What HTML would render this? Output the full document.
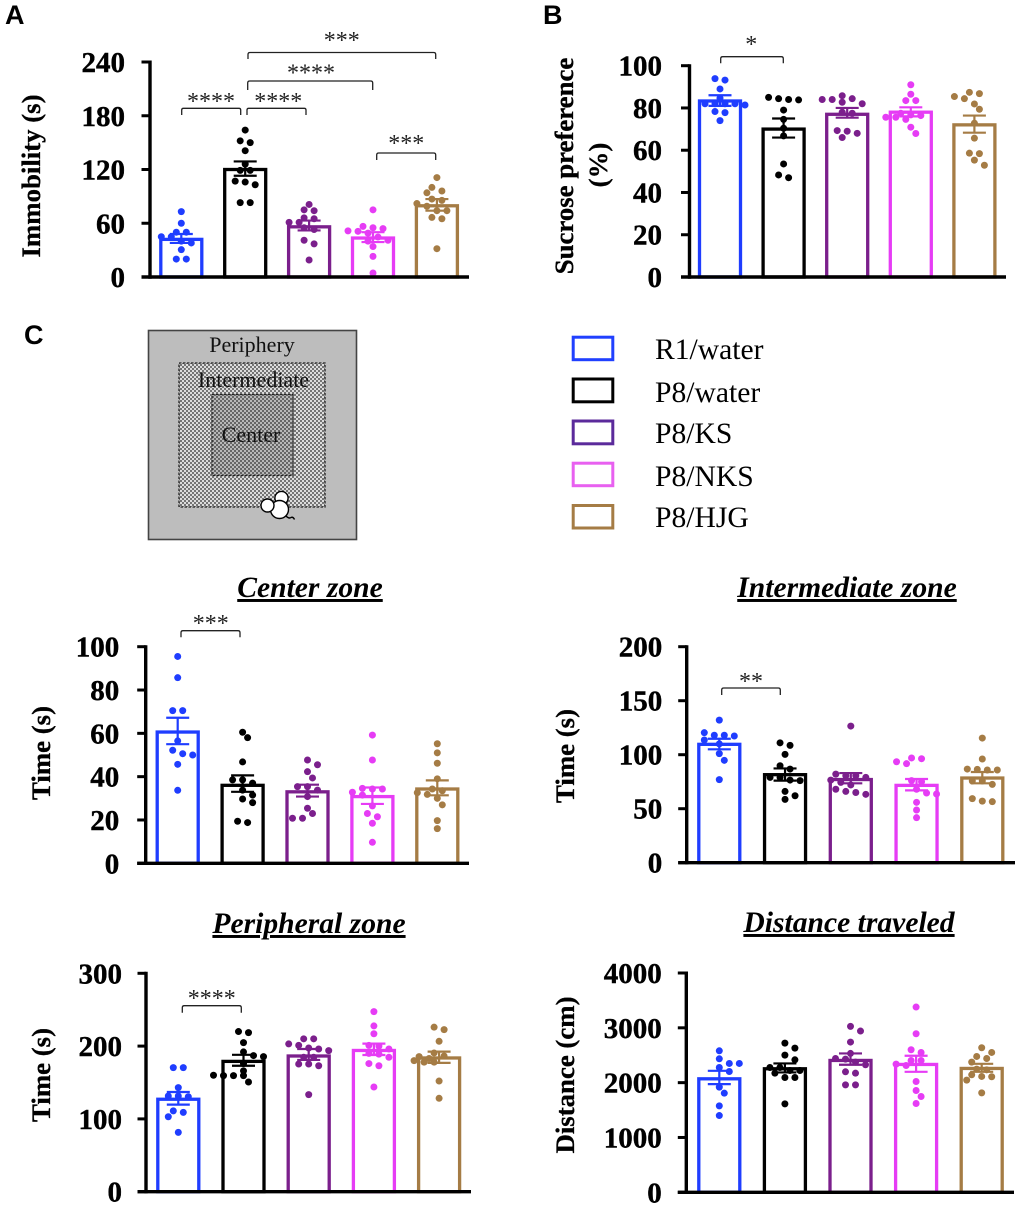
<!DOCTYPE html>
<html lang="en">
<head>
<meta charset="utf-8">
<title>Behavioural test bar charts</title>
<style>
html,body{margin:0;padding:0;background:#fff;}
svg{display:block;}
text{font-family:"Liberation Serif",serif;fill:#000;}
.letter{font-family:"Liberation Sans",sans-serif;font-weight:700;font-size:27px;}
.tick{font-weight:700;font-size:29px;text-anchor:end;stroke:#000;stroke-width:.4;}
.ytitle{font-weight:700;font-size:26.8px;text-anchor:middle;stroke:#000;stroke-width:.3;}
.ztitle{font-weight:700;font-style:italic;font-size:29.6px;text-anchor:middle;text-decoration:underline;}
.stars{font-size:24px;text-anchor:middle;fill:#222;}
.leg{font-size:29.6px;}
.zone{font-size:22px;text-anchor:middle;fill:#111;}
.br{fill:none;stroke:#222;stroke-width:1.3;}
</style>
</head>
<body>
<svg id="fig" xmlns="http://www.w3.org/2000/svg" width="1020" height="1207" viewBox="0 0 1020 1207">
<defs>
<pattern id="chkA" width="4" height="4" patternUnits="userSpaceOnUse"><rect width="4" height="4" fill="#dcdcdc"/><rect width="2" height="2" fill="#747474"/><rect x="2" y="2" width="2" height="2" fill="#747474"/></pattern>
<pattern id="chkB" width="4" height="4" patternUnits="userSpaceOnUse"><rect width="4" height="4" fill="#b8b8b8"/><rect width="2" height="2" fill="#666"/><rect x="2" y="2" width="2" height="2" fill="#666"/></pattern>
</defs>
<rect width="1020" height="1207" fill="#fff"/>

<text class="letter" x="5" y="24">A</text>
<text class="letter" x="543" y="24">B</text>
<text class="letter" x="24" y="344">C</text>

<text class="ytitle" transform="translate(40,176) rotate(-90)">Immobility (s)</text>
<text class="ytitle" transform="translate(573,166) rotate(-90)">Sucrose preference</text>
<text class="ytitle" transform="translate(607,165) rotate(-90)">(%)</text>
<text class="ytitle" transform="translate(50,753) rotate(-90)">Time (s)</text>
<text class="ytitle" transform="translate(574,756) rotate(-90)">Time (s)</text>
<text class="ytitle" transform="translate(50,1075) rotate(-90)">Time (s)</text>
<text class="ytitle" transform="translate(574,1075) rotate(-90)">Distance (cm)</text>

<text class="ztitle" x="310" y="597">Center zone</text>
<text class="ztitle" x="847" y="597">Intermediate zone</text>
<text class="ztitle" x="309" y="933">Peripheral zone</text>
<text class="ztitle" x="849" y="932">Distance traveled</text>

<g>
<rect x="148.5" y="330.5" width="208" height="209" fill="#bdbdbd" stroke="#444" stroke-width="1.6"/>
<rect x="179" y="363" width="146" height="144" fill="url(#chkA)" stroke="#222" stroke-width="1.3" stroke-dasharray="2.5 1.5"/>
<rect x="212" y="394.5" width="81" height="81" fill="url(#chkB)" stroke="#222" stroke-width="1.3" stroke-dasharray="2.5 1.5"/>
<text class="zone" x="252" y="352">Periphery</text>
<text class="zone" x="253.5" y="387">Intermediate</text>
<text class="zone" x="251" y="442">Center</text>
<g fill="#fff" stroke="#000" stroke-width="1.4">
<path d="M286 516 q3 3 5 1.5 q2 -1 3.5 2" fill="none"/>
<circle cx="281.5" cy="498" r="6.6"/>
<circle cx="279.5" cy="509.5" r="9"/>
<circle cx="267.5" cy="505.5" r="6.5"/>
</g>
</g>

<g>
<g><rect x="573.2" y="337.2" width="39.6" height="22.5" fill="#fff" stroke="#2040ff" stroke-width="3"/><text class="leg" x="655" y="359">R1/water</text></g>
<g><rect x="573.2" y="379" width="39.6" height="22.8" fill="#fff" stroke="#000" stroke-width="3"/><text class="leg" x="655" y="402">P8/water</text></g>
<g><rect x="573.2" y="421" width="39.6" height="22.8" fill="#fff" stroke="#5b2a9b" stroke-width="3"/><text class="leg" x="655" y="443">P8/KS</text></g>
<g><rect x="573.2" y="463.2" width="39.6" height="22.5" fill="#fff" stroke="#e860f0" stroke-width="3"/><text class="leg" x="655" y="486">P8/NKS</text></g>
<g><rect x="573.2" y="505.5" width="39.6" height="22.5" fill="#fff" stroke="#a57c45" stroke-width="3"/><text class="leg" x="655" y="527">P8/HJG</text></g>
</g>

<g id="charts"></g>

<g>
<path class="br" d="M181.7 115V110Q181.7 108.3 183.4 108.3H239Q240.7 108.3 240.7 110V115"/>
<text class="stars" x="211" y="109">****</text>
<path class="br" d="M247 115V110Q247 108.3 248.7 108.3H304.3Q306 108.3 306 110V115"/>
<text class="stars" x="278.3" y="109">****</text>
<path class="br" d="M247.7 90V83Q247.7 81 249.7 81H370.7Q372.7 81 372.7 83V90"/>
<text class="stars" x="311" y="80.5">****</text>
<path class="br" d="M248 59V54.5Q248 52.5 250 52.5H433.7Q435.7 52.5 435.7 54.5V59"/>
<text class="stars" x="341.7" y="48">***</text>
<path class="br" d="M376.7 160V155Q376.7 153 378.7 153H433.7Q435.7 153 435.7 155V160"/>
<text class="stars" x="406.3" y="151">***</text>
<path class="br" d="M720.7 63.3V58.7Q720.7 56.7 722.7 56.7H781.3Q783.3 56.7 783.3 58.7V63.3"/>
<text class="stars" x="751.3" y="52">*</text>
<path class="br" d="M181 637.3V632.7Q181 630.7 183 630.7H238Q240 630.7 240 632.7V637.3"/>
<text class="stars" x="210.7" y="631">***</text>
<path class="br" d="M721.7 695V690Q721.7 688 723.7 688H778.3Q780.3 688 780.3 690V695"/>
<text class="stars" x="751" y="689">**</text>
<path class="br" d="M182.3 1012.7V1007.7Q182.3 1005.7 184.3 1005.7H239.3Q241.3 1005.7 241.3 1007.7V1012.7"/>
<text class="stars" x="211.7" y="1006">****</text>
</g>
</svg>

<script>
const groups = ['r1-water', 'p8-water', 'p8-ks', 'p8-nks', 'p8-hjg'];
const groupColors = ['#1f3dff', '#000000', '#7b1f8c', '#e63cf5', '#a57c45'];

const immobilityTicks = [0, 60, 120, 180, 240];
const immobilityMeans = [42, 120, 56, 43.5, 79.5];
const immobilityUpper = [48, 129, 63, 50, 87];
const immobilityLower = [38, 113, 52, 39, 74];
const immobilityPoints = [
  [73, 60, 50, 50, 45, 45, 40, 38, 30.5, 20, 20],
  [164, 152, 150, 141, 126, 119, 119, 107, 106, 103, 83, 83],
  [81, 75, 74, 66, 65, 61, 61, 55, 53, 41, 37, 19],
  [75, 56.5, 55, 54, 51.5, 51, 49, 44.6, 41, 40, 34, 23, 4.5],
  [111, 100, 96, 94, 87, 85.5, 82, 79, 74, 74, 66.5, 65, 31.6]
];

const sucroseTicks = [0, 20, 40, 60, 80, 100];
const sucroseMeans = [83.3, 70, 77, 78, 72];
const sucroseUpper = [86, 75, 80, 80.3, 76.4];
const sucroseLower = [81, 66, 75.4, 76, 68.3];
const sucrosePoints = [
  [93.9, 93.2, 89, 84.6, 82, 82, 82, 82, 81.4, 78.3, 77.8, 74],
  [85, 84.4, 84, 83.8, 79, 74.6, 70.4, 66.8, 53.5, 48.3, 47],
  [85.8, 84.4, 84, 84, 82.7, 82, 78, 77.5, 69.3, 69, 68, 66],
  [91, 86.5, 83.5, 83.5, 77.5, 76.7, 76.4, 75.6, 75.6, 74.6, 70.9, 67.9],
  [87.4, 86.8, 85.4, 84.4, 81.9, 79.4, 72.8, 65.7, 58.6, 58.4, 55.3, 52.9]
];

const centerTicks = [0, 20, 40, 60, 80, 100];
const centerMeans = [60.6, 36, 33, 30.8, 34.3];
const centerUpper = [67.2, 40.6, 36.3, 35, 38.3];
const centerLower = [55, 33, 30.8, 27.4, 31.4];
const centerPoints = [
  [95.5, 85.7, 70.5, 70.5, 56.5, 52.2, 50.6, 50, 45.7, 33.7],
  [60.5, 58, 46.8, 38.5, 38.5, 37, 33.8, 31.5, 29.7, 28, 19.4, 18.8],
  [47.7, 45.5, 42.3, 39.4, 35.4, 35.4, 33.8, 30.8, 25.4, 23, 20.8, 20.8],
  [59.2, 47.7, 34.6, 34.3, 34.3, 32.8, 31.5, 26.5, 23, 21.5, 18.5, 9.7],
  [55.2, 51, 46.2, 39, 34.3, 33.5, 32.6, 31.8, 30, 27, 19.7, 16]
];

const intermediateTicks = [0, 50, 100, 150, 200];
const intermediateMeans = [109.6, 81.5, 77, 71.6, 78.4];
const intermediateUpper = [114.8, 87.3, 83, 77.5, 84];
const intermediateLower = [105, 76, 73.5, 67, 73.5];
const intermediatePoints = [
  [132, 120.4, 118, 118, 117.3, 113.6, 110, 101, 94.8, 76.9],
  [111, 108.6, 100.3, 89.8, 86.7, 79, 79, 76.5, 76, 66, 62, 58.6],
  [126.5, 82, 80.5, 80.5, 79, 76.5, 74.4, 72, 68, 66, 65, 63.3],
  [97, 96.3, 93.5, 91.7, 76, 75, 68, 64.5, 63.6, 55.9, 48.8, 41.7],
  [115.4, 96, 86.7, 86.4, 85.8, 85.8, 75.6, 75.6, 72.5, 59.3, 57, 56.5]
];

const peripheralTicks = [0, 100, 200, 300];
const peripheralMeans = [127, 179, 186.4, 194, 183.7];
const peripheralUpper = [137, 188, 196, 203.4, 192.4];
const peripheralLower = [119.6, 173, 181, 187.8, 177];
const peripheralPoints = [
  [170.4, 170.4, 143, 131.5, 131.5, 130.5, 111, 109, 103, 81.5],
  [220, 218.5, 204.8, 192, 187, 185.5, 176, 166, 160, 159.4, 159.4, 159.4, 150.7],
  [210, 210, 203, 201, 197.4, 196, 193.8, 184.6, 184.6, 175.4, 175.4, 173, 133.3],
  [247.4, 227.7, 217, 201, 200, 196, 190, 189, 184.6, 176, 173, 143.8],
  [226, 222.6, 206.6, 190.6, 186.4, 185.5, 183, 180, 178, 178, 152, 128.3]
];

const distanceTicks = [0, 1000, 2000, 3000, 4000];
const distanceMeans = [2070, 2253, 2405, 2332, 2259];
const distanceUpper = [2216, 2350, 2533, 2490, 2344];
const distanceLower = [1973, 2186, 2326, 2198, 2198];
const distancePoints = [
  [2581, 2435, 2350, 2350, 2277, 2204, 1918, 1808, 1577, 1400],
  [2721, 2630, 2502, 2417, 2277, 2277, 2222, 2222, 2173, 2094, 2094, 1613],
  [3026, 2941, 2740, 2533, 2441, 2429, 2374, 2326, 2198, 2173, 1960, 1960],
  [3379, 2892, 2600, 2551, 2405, 2405, 2338, 2313, 2021, 1857, 1747, 1620],
  [2636, 2551, 2478, 2441, 2374, 2247, 2234, 2143, 2113, 2107, 2046, 1814]
];

const charts = [
  {id: 'immobility', ticks: immobilityTicks, means: immobilityMeans, upper: immobilityUpper, lower: immobilityLower, points: immobilityPoints, axisX: 150, top: 62, bottom: 277, end: 469, first: 181.3, step: 63.9, labelGap: 25},
  {id: 'sucrose', ticks: sucroseTicks, means: sucroseMeans, upper: sucroseUpper, lower: sucroseLower, points: sucrosePoints, axisX: 689.5, top: 65.7, bottom: 277, end: 1006, first: 720, step: 63.6, labelGap: 27.5},
  {id: 'center', ticks: centerTicks, means: centerMeans, upper: centerUpper, lower: centerLower, points: centerPoints, axisX: 145.7, top: 646.7, bottom: 863.3, end: 469, first: 177.7, step: 64.9, labelGap: 26.5},
  {id: 'intermediate', ticks: intermediateTicks, means: intermediateMeans, upper: intermediateUpper, lower: intermediateLower, points: intermediatePoints, axisX: 686.7, top: 646.7, bottom: 862.7, end: 1015, first: 719.3, step: 65.75, labelGap: 24.5},
  {id: 'peripheral', ticks: peripheralTicks, means: peripheralMeans, upper: peripheralUpper, lower: peripheralLower, points: peripheralPoints, axisX: 146, top: 973.3, bottom: 1191.7, end: 471, first: 178.3, step: 65.2, labelGap: 24},
  {id: 'distance', ticks: distanceTicks, means: distanceMeans, upper: distanceUpper, lower: distanceLower, points: distancePoints, axisX: 686.3, top: 973, bottom: 1192.3, end: 1014, first: 719.3, step: 65.6, labelGap: 24.5}
];

const NS = 'http://www.w3.org/2000/svg';
function mk(parent, tag, attrs) {
  const el = document.createElementNS(NS, tag);
  for (const k in attrs) el.setAttribute(k, attrs[k]);
  parent.appendChild(el);
  return el;
}

/* Prism-style scatter: values close in height form a row laid out symmetrically;
   a row shifts sideways by half a column when it would hit the row above. */
function swarm(values, yScale, centre) {
  const binPx = 3.6, col = 10, minDist = 7.2;
  const placed = [];
  const sorted = values.slice().sort(function (a, b) { return b - a; });
  const rows = [];
  sorted.forEach(function (v) {
    const y = yScale(v);
    const row = rows[rows.length - 1];
    if (row && y - row[0] <= binPx) row.push(y);
    else rows.push([y]);
  });
  rows.forEach(function (row) {
    const n = row.length;
    const shifts = [0, 5, -5, 10, -10, 15, -15];
    for (const s of shifts) {
      const spots = row.map(function (y, i) {
        return {x: centre + s + (i - (n - 1) / 2) * col, y: y};
      });
      const clash = spots.some(function (a) {
        return placed.some(function (p) { return Math.hypot(p.x - a.x, p.y - a.y) < minDist; });
      });
      if (!clash || s === -15) {
        spots.forEach(function (a) { placed.push(a); });
        break;
      }
    }
  });
  return placed;
}

const root = document.getElementById('charts');
charts.forEach(function (c) {
  const yMax = c.ticks[c.ticks.length - 1];
  const yScale = function (v) { return c.bottom - (v / yMax) * (c.bottom - c.top); };
  const xBand = function (i) { return c.first + i * c.step; };

  const chart = mk(root, 'g', {});
  
  

  groups.forEach(function (g, i) {
    const cx = xBand(i), color = groupColors[i];
    const yMean = yScale(c.means[i]);

    const bar = mk(chart, 'rect', {x: cx - 20.5, y: yMean, width: 41, height: c.bottom - yMean, fill: '#fff', stroke: color, 'stroke-width': 3.3});
    
    

    swarm(c.points[i], yScale, cx).forEach(function (p) {
      const dot = mk(chart, 'circle', {cx: p.x, cy: p.y, r: 3.5, fill: color});
      
      
    });

    const yU = yScale(c.upper[i]), yL = yScale(c.lower[i]);
    const err = mk(chart, 'path', {d: 'M' + (cx - 11.5) + ' ' + yU + 'H' + (cx + 11.5) + 'M' + cx + ' ' + yU + 'V' + yL + 'M' + (cx - 11.5) + ' ' + yL + 'H' + (cx + 11.5), fill: 'none', stroke: color, 'stroke-width': 2.2});
    
    
  });

  const yAxis = mk(chart, 'line', {x1: c.axisX, x2: c.axisX, y1: c.top - 1.5, y2: c.bottom + 1.7, stroke: '#000', 'stroke-width': 3.4});
  
  

  const xAxis = mk(chart, 'line', {x1: c.axisX - 8.5, x2: c.end, y1: c.bottom, y2: c.bottom, stroke: '#000', 'stroke-width': 3.4});
  
  

  c.ticks.forEach(function (t) {
    const y = yScale(t);
    const tick = mk(chart, 'line', {x1: c.axisX - 8.5, x2: c.axisX, y1: y, y2: y, stroke: '#000', 'stroke-width': 3});
    
    

    const label = mk(chart, 'text', {x: c.axisX - c.labelGap, y: y + 10, class: 'tick'});
    label.textContent = String(t);
    
    
  });
});
</script>
</body>
</html>
